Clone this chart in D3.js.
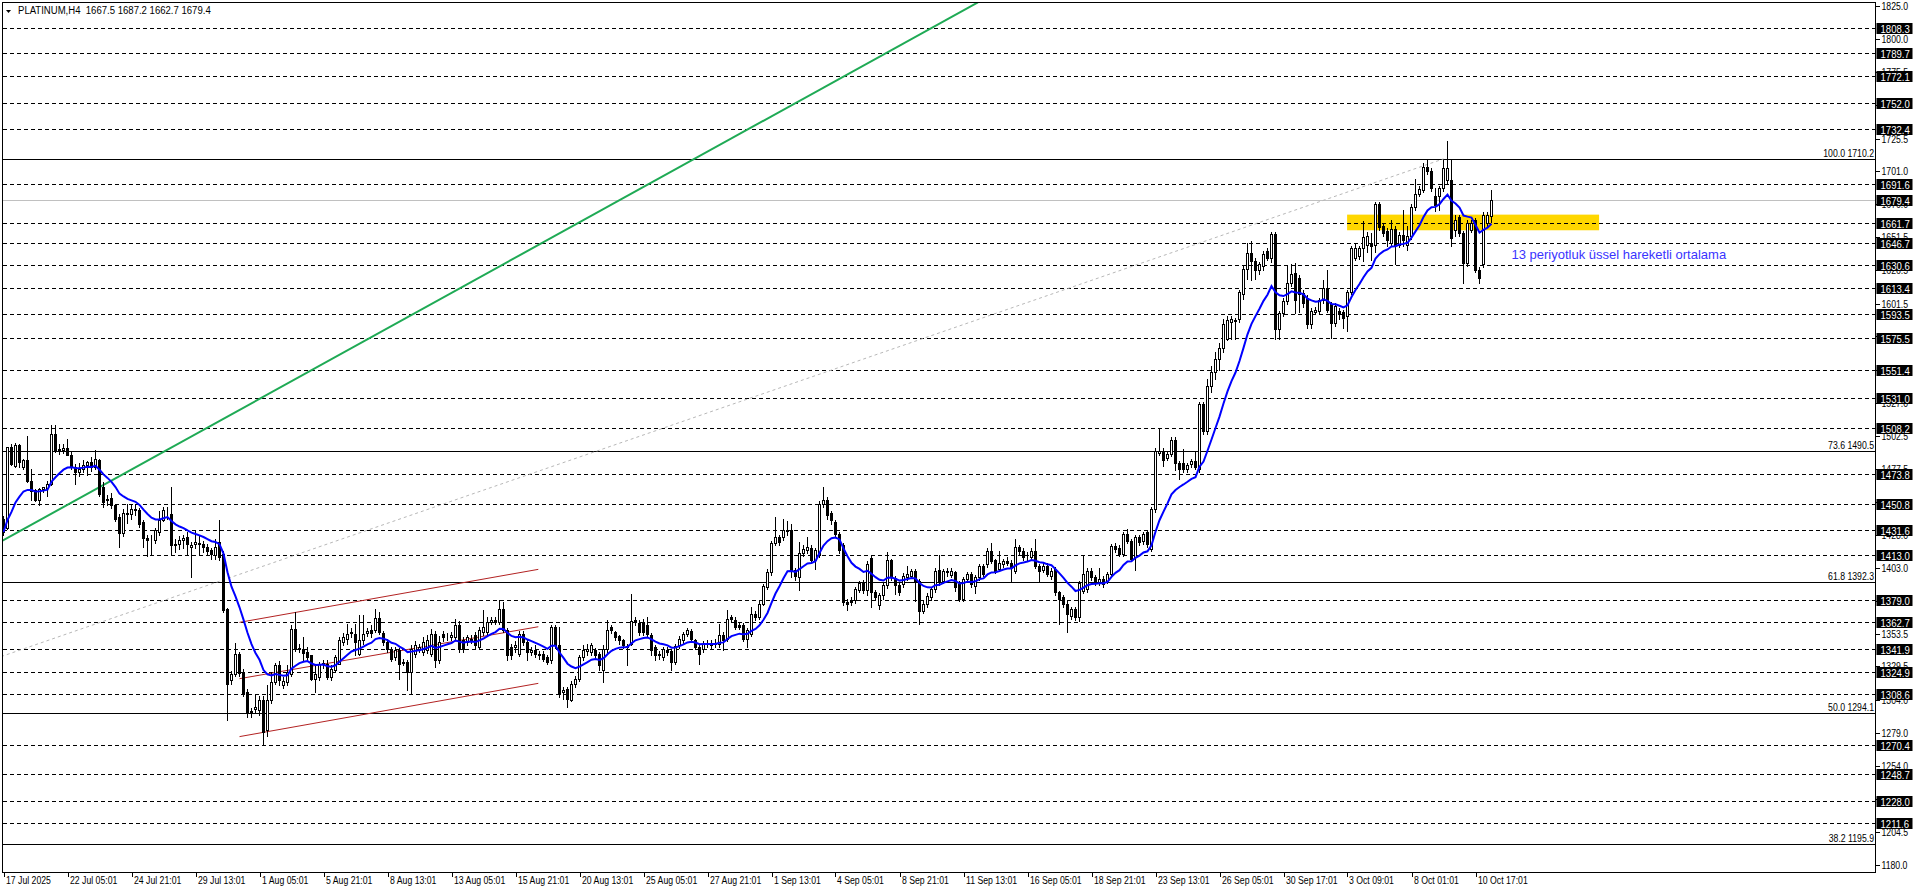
<!DOCTYPE html>
<html><head><meta charset="utf-8">
<script src="https://cdn.jsdelivr.net/npm/d3@7"></script>
<style>
html,body{margin:0;padding:0;background:#fff;overflow:hidden}
svg{display:block}
text{font-family:"Liberation Sans",Arial,sans-serif;white-space:pre}
</style></head><body>
<svg id="c" width="1916" height="888"></svg>
<script>
// ---- DATA ----
const symbolTitle = "PLATINUM,H4  1667.5 1687.2 1662.7 1679.4";
const opens = [1440,1433,1493.7,1479.5,1495,1478.7,1484,1468.7,1461.7,1454.2,1462.5,1463.2,1466.2,1503.7,1491.5,1491.7,1493.2,1488.2,1479.2,1475,1477.5,1480,1482.5,1479.2,1484.2,1463.7,1453.7,1455.7,1450,1441.2,1429.2,1444.2,1443.7,1447.5,1446.7,1437.5,1425.7,1424.2,1424.2,1429.7,1439.2,1446.2,1443.7,1420,1421.2,1423.7,1426,1418.7,1420.7,1421.7,1420.7,1418.7,1416.2,1412.5,1422.5,1413.7,1372.5,1318.7,1323.7,1338.2,1325,1310,1296,1297,1296.2,1303.7,1281,1303.7,1317.5,1330,1315,1317.5,1323.7,1357.5,1342.5,1342.5,1339.9,1337.4,1320,1321.2,1331.2,1331.2,1321.2,1326.2,1331.2,1347.4,1350,1354.2,1353.7,1338.7,1348.7,1354.5,1356.2,1356.2,1365.7,1354.2,1347.5,1342.5,1336.2,1341.2,1332,1332.5,1325,1338.7,1342.5,1340,1341.2,1338.7,1353.2,1334.2,1353.7,1351.2,1351.2,1351.2,1360,1348.7,1347.5,1349.9,1352.5,1343.7,1355,1355,1362.5,1363.7,1362.5,1372.5,1356.2,1343.7,1344,1338.7,1353.7,1347.5,1340,1341.2,1338.7,1338.7,1336.2,1333.7,1358.7,1345,1310,1312.5,1304.2,1316.2,1320,1336.2,1340.7,1340,1341.2,1338.7,1326.2,1342.5,1358.7,1354.9,1351.9,1349.2,1343.7,1346.2,1363.7,1361.7,1362.5,1360,1352.5,1343.7,1338.7,1336.2,1341.7,1340.5,1332.5,1344.9,1348.7,1353.7,1355.7,1348.7,1343.7,1342.5,1346.2,1346.5,1347,1346.2,1352.9,1350,1366,1363.7,1359.9,1360.5,1350,1353.7,1368.7,1366.2,1376.2,1388.7,1400,1421.7,1426.2,1426.2,1430.7,1431.7,1401.7,1396.2,1414.2,1416.2,1418.2,1409.2,1412.5,1451.2,1454.2,1444.2,1437.5,1428.7,1420,1377.5,1378.7,1378.7,1386.7,1392.5,1386.2,1410.7,1385,1375,1382.5,1390,1408.7,1395.7,1390,1391,1396,1397.2,1400.5,1393.5,1371,1376,1381,1387.2,1401.5,1393.5,1400.5,1398,1399.7,1391,1379.7,1394.7,1398.5,1389.7,1396,1404.7,1406,1416,1409,1402.2,1406,1408,1406.5,1401,1418.5,1416,1412,1411,1416,1404.7,1401.5,1404.7,1397.2,1402.2,1384.7,1381,1376,1367.2,1372.2,1366,1386,1387.2,1401,1396,1392.2,1394.7,1393.5,1398.5,1419.7,1418,1413.5,1428.5,1423.5,1411,1426,1423.5,1429.7,1417.2,1447.2,1489.7,1491,1485.5,1488.5,1499,1481.5,1481.5,1477.2,1481,1483,1477.2,1526.5,1506,1539.7,1550,1560,1568,1574.6,1588,1589,1590,1608.4,1627.6,1639.6,1633.4,1627.1,1629.6,1640.8,1635.8,1653.8,1582.1,1594.6,1603.4,1617.1,1624.6,1620.9,1609.6,1605.9,1585.9,1595,1595.9,1604.6,1612.6,1600.9,1587.1,1595.9,1595,1592.1,1610.1,1635.9,1637,1643.4,1645.9,1647.1,1645.9,1676.6,1660.1,1656.4,1647.1,1657.6,1645.9,1653.4,1645.9,1652.1,1674.1,1684.1,1687.1,1703.9,1700.9,1682.6,1682.6,1688.4,1694.6,1694.6,1657.1,1666.6,1654.6,1632.1,1657.1,1664.6,1627.1,1630.9,1662.1,1667.5];
const highs = [1442,1494,1496,1496.7,1496,1485,1502.5,1477.5,1462,1463,1464,1468.7,1510.7,1510.7,1496,1496,1500,1490,1481,1482,1484,1483.7,1486,1491.7,1485,1467.5,1458,1459,1451,1443.7,1447,1451,1451,1450.7,1448,1439,1428,1428,1433,1446,1448.5,1449,1463.7,1425,1427,1428,1430,1422.5,1431,1427,1423,1421,1418,1425,1438.7,1416,1373,1326,1346.7,1340,1327,1312,1298,1308,1307,1307,1315,1325,1332,1333,1321,1330,1360,1370,1346,1351.2,1343.7,1337.5,1331.2,1332.5,1334,1333.7,1330,1338,1351.2,1354,1361.2,1358,1361.2,1367.5,1367.5,1358,1360,1372.5,1370,1356,1350,1344,1344,1343,1335,1334,1345,1348,1346,1351,1353,1357,1356,1352,1356,1354,1355,1365,1363,1351,1353,1353,1355,1359,1371.2,1366,1366,1366,1378.7,1377.5,1358,1346,1348,1356,1356,1350,1343.7,1345,1341,1341,1338,1360,1360,1358.7,1314,1314,1318,1322,1338,1345,1346,1347,1343,1340,1345,1363.7,1360,1356,1353,1350,1346,1383.7,1366.2,1364,1365,1366,1354,1345,1341,1344,1344,1342,1346,1352,1355,1358,1357,1350,1345,1348,1349,1349,1350,1361.2,1355,1371.2,1368,1366,1362,1362,1358,1373.7,1371,1378,1391,1402,1423,1441.2,1428,1440,1438,1436.2,1403,1422.5,1420,1426.2,1420,1418,1453,1464.2,1456,1446,1439,1430,1422,1380,1381,1389,1393,1394,1408,1412,1386.5,1384,1392,1415,1410,1397,1392,1399,1404.7,1402,1402,1395,1378,1384,1389,1403,1412.7,1402,1403,1403,1401,1393,1396,1400,1400,1398,1406,1406,1418,1421.5,1410,1416,1410,1411,1409,1424.7,1420,1418,1415,1418,1424.7,1406,1407,1407,1403,1404,1386,1383,1378,1374,1374,1393,1412.7,1403,1403,1398,1402.7,1397,1400,1421,1422,1420,1430,1432.2,1425,1428,1428,1430,1431,1449,1493,1507.2,1493,1490,1501,1501,1483,1492.2,1482,1485,1491,1528,1528,1544.7,1555,1565,1572,1590,1592,1592,1590.8,1612,1630,1647,1648.4,1636,1633,1641,1643,1655,1655,1596,1606,1630,1630.9,1632.1,1623,1612,1608,1598,1599,1606,1619.6,1627.1,1603,1602,1598,1597,1612,1645,1647.1,1645,1663.9,1655,1654.6,1678,1678,1662,1658,1664.6,1660,1655,1672.1,1660,1676,1695,1690,1707.1,1709.6,1703,1688.4,1690,1709.6,1723.9,1709.6,1668,1668,1656,1664,1664,1666,1629,1670,1670,1687.2];
const lows = [1428,1432,1480,1479,1478.7,1477,1467.5,1453.7,1453,1450,1460,1457,1465,1490,1488.7,1489,1487.5,1477.5,1466.2,1472,1475,1472.5,1476,1477.5,1457,1448.7,1450,1448,1438,1418.7,1427,1437,1440,1442.5,1434,1418.7,1411.7,1413,1422,1428,1438,1440,1413.7,1415,1417.5,1418,1413.7,1396.2,1418,1413.7,1415,1413,1410,1410,1408.7,1370,1288.7,1316,1322,1322,1307,1291,1291,1295,1293,1270.5,1277,1302,1316,1315,1313,1315,1322,1341,1340,1333.7,1333.7,1319,1310,1318.7,1328,1320,1319,1325,1331,1345,1346.2,1351,1337.5,1337.5,1346.2,1352,1351,1355,1353.7,1345,1340,1333,1334,1320,1330,1311.7,1309.2,1336,1340,1338,1339,1337,1328.7,1332,1348,1349,1349,1349,1340,1340,1345,1347,1343,1342,1353,1353,1361,1361,1361,1355,1333.7,1335,1340,1337,1345,1333.7,1338,1336,1335,1333,1331,1332,1343,1306.2,1305,1298.7,1303,1314,1318,1334,1338,1338,1335,1326.2,1317.2,1340,1354,1349,1346,1343,1330,1345,1360,1353,1353,1351,1338,1334,1335,1334,1338,1326.2,1331,1343,1347,1352,1348,1342,1331.2,1340,1344,1343,1344,1344,1341.2,1348,1363,1357,1357,1348,1343.7,1352,1364,1365,1375,1387,1398,1420,1420,1424,1428,1396.2,1394,1386.2,1412,1414,1407,1402.5,1411,1449,1440,1436.2,1427,1414,1375,1371.7,1375,1377,1385,1384,1382.5,1373.7,1379,1372.5,1380,1388,1394,1383.2,1383,1389,1394,1396,1378.5,1361,1369,1374,1379,1385,1390,1392,1397,1396,1386,1378,1378,1393,1389,1384,1394,1397,1404,1407,1399,1401,1404,1405,1392.2,1399,1413,1409,1409,1409,1403,1392.2,1400,1397,1395,1383,1361,1374,1354.7,1365,1364,1363.5,1384,1385,1394,1390,1390,1389,1392,1397,1415,1412,1412,1422,1408,1401.5,1420,1421,1419,1416,1444.7,1488,1479.7,1484,1487,1476.5,1469.7,1475,1475,1479,1477,1475,1504,1504,1535,1545,1552,1565,1574,1574.6,1574.6,1588,1605,1620,1619.6,1620,1624,1627,1634,1633,1574.6,1575,1592,1601,1615,1594.6,1595,1599,1583.4,1583,1594,1594,1602,1595,1575.9,1585,1590,1583,1580.9,1609,1634,1635,1633.4,1640,1634.6,1640,1657,1652,1645,1645,1630.9,1644,1645,1642.1,1650,1672,1682,1685,1699,1686,1670.9,1672,1686,1692,1645,1652,1652,1617.1,1630,1655,1625,1617.1,1629,1660,1662.7];
const closes = [1430,1493.7,1481.2,1495,1482.5,1484,1468.7,1460.7,1453.7,1462.5,1463.5,1466.2,1503.7,1491.2,1492,1493.2,1488.2,1479.2,1475,1477.5,1480.7,1482.5,1478.7,1484.7,1458.7,1452.5,1455,1450,1440,1429.2,1444.2,1443.7,1447.5,1446.2,1436.2,1425.7,1424.2,1423.7,1431.7,1439.2,1446.2,1446.7,1420,1421.2,1424.2,1425.7,1420.7,1420,1422.5,1421.2,1418.7,1415.7,1413.2,1418.7,1411.2,1371.2,1316.2,1323.7,1338.2,1324.2,1308.7,1295,1295,1299,1303.7,1280,1303.7,1317.5,1330,1318.7,1318,1325,1357.5,1342.5,1343,1339.2,1336.2,1320,1323.7,1331.2,1331.5,1321.2,1327.5,1336.2,1348.7,1351.2,1353.7,1355,1347.5,1348.7,1353.7,1355.7,1354.2,1365.7,1355,1347.5,1342.5,1335,1341.2,1331.2,1332.5,1325,1342.5,1345,1343.7,1347.5,1348.7,1353.2,1333.7,1347.5,1351.2,1351.5,1352.5,1360,1342.5,1342.5,1351.2,1349,1345,1356.2,1358.7,1362.5,1363.7,1363.2,1372.5,1356.2,1337.5,1337.5,1345,1353.7,1347.5,1340,1341.2,1338.7,1337.5,1335,1332.5,1358.7,1345,1308.7,1311.2,1305,1316.2,1320,1336.2,1341.2,1342.5,1345,1337.5,1330,1342.5,1356.7,1356.2,1351.2,1348.7,1345,1344.5,1363.2,1362.5,1355,1355,1353.7,1341.2,1337.5,1337.5,1342.5,1340,1332.5,1344.5,1350,1353.7,1356.2,1350,1343.7,1338.7,1346.2,1346.7,1345.5,1345.7,1352.9,1348.7,1364.7,1365,1358.7,1359,1350,1356.2,1368.7,1366.2,1376.2,1389.2,1400,1421.7,1426.2,1422.5,1431.2,1431.7,1401.7,1396.7,1414.2,1417.5,1418.7,1409.2,1416.2,1451.2,1453.7,1442.5,1438.7,1428.7,1416.2,1377.5,1376.2,1377.5,1387,1391.7,1386.2,1406.2,1385,1381.2,1382.5,1390,1408.7,1396.2,1390,1385,1397.2,1398.5,1400.5,1393.5,1371,1376,1382.2,1387.2,1401,1392.2,1400.5,1399.7,1400.5,1388.5,1379.7,1394.7,1398.5,1391,1396,1404.7,1398.5,1416,1408.5,1401,1406.5,1408,1407,1403.5,1418.5,1415.5,1411,1412.2,1416,1404.7,1401,1404.7,1398.5,1401,1384.7,1379.7,1376,1368.5,1372.2,1366,1391.5,1398.5,1401,1396,1392.2,1394.7,1391,1398.5,1419.7,1417.2,1413.5,1428.5,1423.5,1409.7,1426,1422.2,1428.5,1421,1447.2,1491,1491,1484,1488.5,1499,1481.5,1477.2,1477.2,1480.2,1483,1478.5,1526.5,1506,1539.7,1550,1560,1568,1586,1589.6,1590,1588.5,1610,1627.6,1639.6,1633.4,1627.1,1630.9,1639.1,1635.8,1653.8,1582.1,1594.6,1603.4,1617.1,1623.4,1604.6,1608.4,1602.1,1585.9,1595.9,1597,1604.6,1613.4,1597.1,1587.1,1599.6,1593.4,1590.9,1610.1,1643.4,1643.4,1643.4,1651.6,1652.1,1644.6,1676.6,1659.1,1654.6,1649.6,1657.6,1645.9,1653.4,1649.6,1652.1,1674.1,1684.1,1687.6,1703.9,1700.9,1688.4,1675.9,1688.4,1703.4,1703.4,1650.9,1664.6,1654.6,1632.1,1662.1,1662.1,1627.1,1620.9,1668.4,1668.4,1679.4];

const timeLabels = ["17 Jul 2025","22 Jul 05:01","24 Jul 21:01","29 Jul 13:01","1 Aug 05:01","5 Aug 21:01","8 Aug 13:01","13 Aug 05:01","15 Aug 21:01","20 Aug 13:01","25 Aug 05:01","27 Aug 21:01","1 Sep 13:01","4 Sep 05:01","8 Sep 21:01","11 Sep 13:01","16 Sep 05:01","18 Sep 21:01","23 Sep 13:01","26 Sep 05:01","30 Sep 17:01","3 Oct 09:01","8 Oct 01:01","10 Oct 17:01"];
const timeLabelBars = [0,16,32,48,64,80,96,112,128,144,160,176,192,208,224,240,256,272,288,304,320,336,352,368];

const priceTicks = ["1825.0","1800.0","1775.5","1750.5","1725.5","1701.0","1676.0","1651.5","1626.5","1601.5","1577.0","1552.0","1527.0","1502.5","1477.5","1452.5","1428.0","1403.0","1378.5","1353.5","1329.5","1304.0","1279.0","1254.0","1229.5","1204.5","1180.0"];
const levelPrices = [1808.3,1789.7,1772.1,1752.0,1732.4,1691.6,1661.7,1646.7,1630.6,1613.4,1593.5,1575.5,1551.4,1531.0,1508.2,1473.8,1450.8,1431.6,1413.0,1379.0,1362.7,1341.9,1324.9,1308.6,1270.4,1248.7,1228.0,1211.6];
const fibRatios = ["100.0","73.6","61.8","50.0","38.2"];
const fibPrices = [1710.2,1490.5,1392.3,1294.1,1195.9];
const fibTrendBars = [-443, 360];
const fibTrendPrices = [878.0, 1710.2];
const greenBars = [-0.875, 243.6];
const greenPrices = [1422.5, 1827.7];
const channelBars = [59, 133.7];
const channelUpper = [1362.2, 1402.0];
const channelMiddle = [1319.9, 1358.9];
const channelLower = [1276.4, 1316.4];
const zoneBars = [335.9, 398.9];
const zonePrices = [1668.35, 1656.6];
const noteText = "13 periyotluk üssel hareketli ortalama";
const noteBar = 377;
const notePrice = 1635.0;
const emaPeriod = 13;

// ---- CHART ----
const svg = d3.select('#c');
const plot = {l:2.5, r:1875.5, t:2.5, b:872.5};
const x = d3.scaleLinear().domain([0, 372]).range([3.5, 1491.5]);
const y = d3.scaleLinear().domain([1180, 1825]).range([865, 6]);
const py = v => Math.round(y(v)) + 0.5;

svg.append('defs').append('clipPath').attr('id','clip')
  .append('rect').attr('x',3).attr('y',3).attr('width',1872).attr('height',869);

const gp = svg.append('g').attr('clip-path','url(#clip)');

// yellow zone
gp.append('rect')
  .attr('x', x(zoneBars[0])).attr('width', x(zoneBars[1]) - x(zoneBars[0]))
  .attr('y', y(zonePrices[0])).attr('height', y(zonePrices[1]) - y(zonePrices[0]))
  .attr('fill', '#ffd700');

// dashed levels
gp.selectAll('line.lvl').data(levelPrices).join('line').attr('class','lvl')
  .attr('x1', plot.l).attr('x2', plot.r)
  .attr('y1', d => py(d)).attr('y2', d => py(d))
  .attr('stroke', '#000').attr('stroke-width', 1).attr('stroke-dasharray', '4,3')
  .attr('shape-rendering','crispEdges');

// current price line
gp.append('line').attr('x1', plot.l).attr('x2', plot.r)
  .attr('y1', py(closes[closes.length-1])).attr('y2', py(closes[closes.length-1]))
  .attr('stroke', '#c0c0c0').attr('shape-rendering','crispEdges');

// fib solid levels
gp.selectAll('line.fib').data(fibPrices).join('line').attr('class','fib')
  .attr('x1', plot.l).attr('x2', plot.r)
  .attr('y1', d => py(d)).attr('y2', d => py(d))
  .attr('stroke', '#000').attr('shape-rendering','crispEdges');

// fib trend (dotted gray)
gp.append('line')
  .attr('x1', x(fibTrendBars[0])).attr('y1', y(fibTrendPrices[0]))
  .attr('x2', x(fibTrendBars[1])).attr('y2', y(fibTrendPrices[1]))
  .attr('stroke', '#b8b8b8').attr('stroke-width', 1).attr('stroke-dasharray', '3,3');

// green trend
gp.append('line')
  .attr('x1', x(greenBars[0])).attr('y1', y(greenPrices[0]))
  .attr('x2', x(greenBars[1])).attr('y2', y(greenPrices[1]))
  .attr('stroke', '#1faa55').attr('stroke-width', 2);

// red channel
[channelUpper, channelMiddle, channelLower].forEach(c => {
  gp.append('line')
    .attr('x1', x(channelBars[0])).attr('y1', y(c[0]))
    .attr('x2', x(channelBars[1])).attr('y2', y(c[1]))
    .attr('stroke', '#b22222').attr('stroke-width', 1);
});

// candles
const idx = d3.range(opens.length);
gp.selectAll('line.wick').data(idx).join('line').attr('class','wick')
  .attr('x1', i => x(i)).attr('x2', i => x(i))
  .attr('y1', i => Math.round(y(highs[i]))).attr('y2', i => Math.round(y(lows[i])) + 1)
  .attr('stroke', '#000').attr('shape-rendering','crispEdges');
gp.selectAll('rect.body').data(idx).join('rect').attr('class','body')
  .attr('x', i => x(i) - 1).attr('width', 2)
  .attr('y', i => py(Math.max(opens[i], closes[i])))
  .attr('height', i => Math.max(0, py(Math.min(opens[i], closes[i])) - py(Math.max(opens[i], closes[i]))))
  .attr('fill', i => closes[i] >= opens[i] ? '#fff' : '#000')
  .attr('stroke', '#000').attr('shape-rendering','crispEdges');

// EMA 13 of closes
const k = 2 / (emaPeriod + 1);
const ema = [];
closes.forEach((c, i) => { ema.push(i === 0 ? c : ema[i-1] + k * (c - ema[i-1])); });
gp.append('path').datum(idx)
  .attr('d', d3.line().x(i => x(i)).y(i => y(ema[i])))
  .attr('fill', 'none').attr('stroke', '#0000ff').attr('stroke-width', 2);

// note text
svg.append('text').attr('x', x(noteBar)).attr('y', y(notePrice))
  .attr('font-size', 13).attr('fill', '#3a34ff').text(noteText);

// frame
svg.append('rect').attr('x', plot.l).attr('y', plot.t)
  .attr('width', plot.r - plot.l).attr('height', plot.b - plot.t)
  .attr('fill', 'none').attr('stroke', '#000').attr('shape-rendering','crispEdges');

// helper for condensed text
function ctext(g, tx, ty, str, size, anchor, fill) {
  return g.append('text').attr('transform', `translate(${tx},${ty}) scale(0.87,1)`)
    .attr('font-size', size).attr('text-anchor', anchor || 'start')
    .attr('fill', fill || '#000').text(str);
}

// fib labels
const gl = svg.append('g');
fibPrices.forEach((p, i) => ctext(gl, 1874, py(p) - 2.5, `${fibRatios[i]} ${p.toFixed(1)}`, 10, 'end'));

// right axis ticks (labels fully hidden behind a level box are not drawn)
const ga = svg.append('g');
const boxPrices = levelPrices.concat([closes[closes.length-1]]);
priceTicks.forEach(t => {
  const v = +t;
  ga.append('line').attr('x1', plot.r).attr('x2', plot.r + 4).attr('y1', py(v)).attr('y2', py(v))
    .attr('stroke', '#000').attr('shape-rendering','crispEdges');
  const hidden = boxPrices.some(b => Math.abs(y(b) - y(v)) < 3.6);
  if (!hidden) ctext(ga, 1881.5, py(v) + 3.5, t, 10, 'start');
});
// level boxes
boxPrices.forEach(v => {
  ga.append('rect').attr('x', 1876.5).attr('width', 36).attr('y', py(v) - 5.5).attr('height', 11)
    .attr('fill', '#000');
  ctext(ga, 1880.5, py(v) + 4, v.toFixed(1), 11, 'start', '#fff');
});

// time axis
const gt = svg.append('g');
timeLabelBars.forEach((b, i) => {
  const tx = Math.round(x(b)) + 0.5;
  gt.append('line').attr('x1', tx).attr('x2', tx).attr('y1', plot.b).attr('y2', plot.b + 4)
    .attr('stroke', '#000').attr('shape-rendering','crispEdges');
  ctext(gt, tx + 1.5, 884, timeLabels[i], 10, 'start');
});

// title
svg.append('path').attr('d', 'M6,10 L11,10 L8.5,13 Z').attr('fill', '#000');
ctext(svg, 18, 14, symbolTitle, 11, 'start');
</script>
</body></html>
